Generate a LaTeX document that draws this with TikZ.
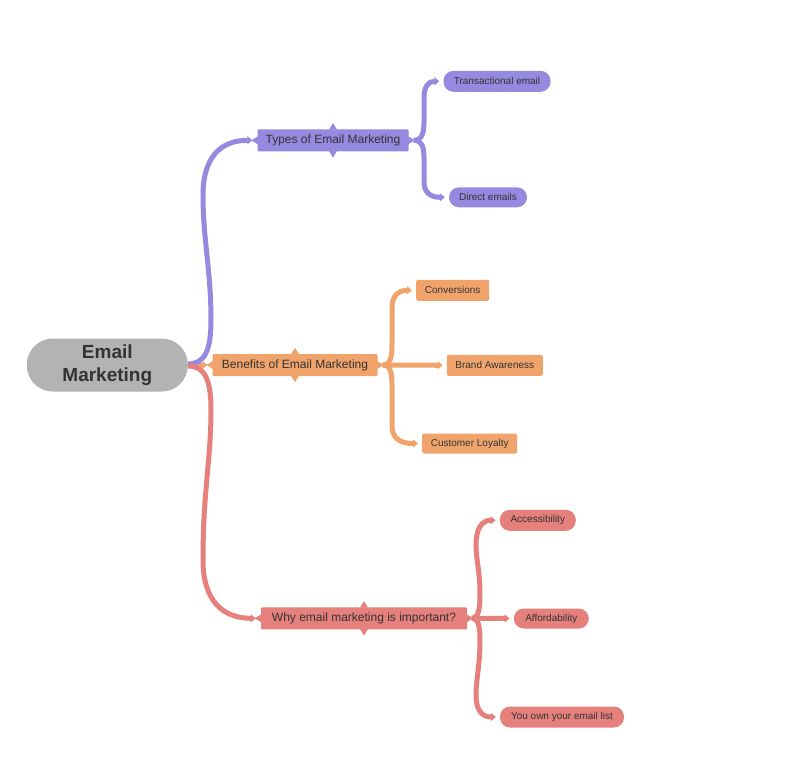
\documentclass[tikz,border=0pt]{standalone}
\usepackage{fontspec}
\setmainfont{Liberation Sans}
\usetikzlibrary{arrows.meta,calc}
\definecolor{cpur}{HTML}{9589E0}
\definecolor{cora}{HTML}{F0A46C}
\definecolor{cred}{HTML}{E5807C}
\definecolor{cgray}{HTML}{B3B3B3}
\definecolor{ctext}{HTML}{333333}
\newcommand{\topicnotch}[2]{%
  \fill[#2] ($(#1.north)+(-4,0.5)$) -- ($(#1.north)+(0,-6)$) -- ($(#1.north)+(4,0.5)$) -- cycle;
  \fill[#2] ($(#1.south)+(-4,-0.5)$) -- ($(#1.south)+(0,6)$) -- ($(#1.south)+(4,-0.5)$) -- cycle;
  \fill[#2] ($(#1.west)+(0.5,-4)$) -- ($(#1.west)+(-6,0)$) -- ($(#1.west)+(0.5,4)$) -- cycle;
  \fill[#2] ($(#1.east)+(-0.5,-4)$) -- ($(#1.east)+(6,0)$) -- ($(#1.east)+(-0.5,4)$) -- cycle;
}
\begin{document}
\begin{tikzpicture}[x=1pt,y=-1pt,
  topic/.style={fill=#1, text=ctext, inner sep=0pt, minimum height=22pt, rounded corners=1pt, font=\fontsize{12}{14}\selectfont},
  pill/.style={fill=#1, text=ctext, inner sep=0pt, minimum height=21pt, rounded corners=10pt, font=\fontsize{10}{12}\selectfont},
  rleaf/.style={fill=#1, text=ctext, inner sep=0pt, minimum height=21pt, rounded corners=2pt, font=\fontsize{10}{12}\selectfont},
  conn/.style={draw=#1, line width=5pt, -{Triangle[length=5pt,width=8pt]}, shorten >=5pt},
  brace/.style={draw=#1, line width=5pt, -{Triangle[length=5pt,width=8pt]}, shorten >=4pt},
  mid/.style={draw=#1, line width=5pt}]
\useasboundingbox (0,0) rectangle (801,772);
\fill[white] (0,0) rectangle (801,772);

% connectors from central node (drawn first)
\node[fill=cgray, text=ctext, rounded corners=26pt, minimum width=161pt, minimum height=53pt, inner sep=0pt, align=center, font=\fontsize{19}{23}\selectfont\bfseries] (c) at (107.3,365) {Email\\Marketing};

\node[topic=cpur, minimum width=151pt] (t) at (333,140.3) {Types of Email Marketing};
\node[topic=cora, minimum width=165pt] (b) at (295,365) {Benefits of Email Marketing};
\node[topic=cred, minimum width=206pt] (w) at (364,618.3) {Why email marketing is important?};

\node[pill=cpur, minimum width=107pt] (tr) at (497,81.3) {Transactional email};
\node[pill=cpur, minimum width=78pt, minimum height=20pt] (de) at (488,197.3) {Direct emails};
\node[rleaf=cora, minimum width=73pt] (co) at (452.7,290.3) {Conversions};
\node[rleaf=cora, minimum width=96pt] (ba) at (494.8,365.3) {Brand Awareness};
\node[rleaf=cora, minimum width=95pt, minimum height=20pt] (cl) at (469.7,443.5) {Customer Loyalty};
\node[pill=cred, minimum width=76pt] (ac) at (537.8,520.3) {Accessibility};
\node[pill=cred, minimum width=75pt, minimum height=20pt] (af) at (551.3,618.5) {Affordability};
\node[pill=cred, minimum width=124pt] (yo) at (562,717) {You own your email list};

\topicnotch{t}{cpur}
\topicnotch{b}{cora}
\topicnotch{w}{cred}

% main branches
\draw[conn=cora] (c.east) -- (b.west);
\draw[conn=cpur] ($(c.east)+(0,-1)$) .. controls (205,364) and (211,350) .. (211,320) .. controls (211,270) and (203,240) .. (203,195) .. controls (203,158) and (220,140.3) .. (t.west);
\draw[conn=cred] ($(c.east)+(0,1)$) .. controls (205,366) and (211,380) .. (211,410) .. controls (211,460) and (203,490) .. (203,560) .. controls (203,600) and (222,618.3) .. (w.west);

% braces
\coordinate (tb) at ($(t.east)+(5,0)$);
\draw[brace=cpur] (tb) .. controls (422,140.3) and (424,133) .. (424,122) -- (424,98) .. controls (424,87) and (428,81.3) .. (tr.west);
\draw[brace=cpur] (tb) .. controls (422,140.3) and (424,147) .. (424,158) -- (424,182) .. controls (424,192) and (430,197.3) .. (de.west);

\coordinate (ob) at ($(b.east)+(5,0)$);
\draw[brace=cora] (ob) .. controls (390,365) and (392,358) .. (392,345) -- (392,308) .. controls (392,296) and (398,290.3) .. (co.west);
\draw[brace=cora] (ob) -- (ba.west);
\draw[brace=cora] (ob) .. controls (390,365) and (392,372) .. (392,385) -- (392,425) .. controls (392,437) and (398,443.5) .. (cl.west);

\coordinate (rb) at ($(w.east)+(5,0)$);
\draw[brace=cred] (rb) .. controls (478,618.3) and (480,610) .. (480,595) .. controls (480,570) and (476,560) .. (476,545) .. controls (476,528) and (482,520.3) .. (ac.west);
\draw[brace=cred] (rb) -- (af.west);
\draw[brace=cred] (rb) .. controls (478,618.3) and (480,626) .. (480,640) .. controls (480,665) and (476,680) .. (476,695) .. controls (476,710) and (482,717) .. (yo.west);
\end{tikzpicture}
\end{document}
